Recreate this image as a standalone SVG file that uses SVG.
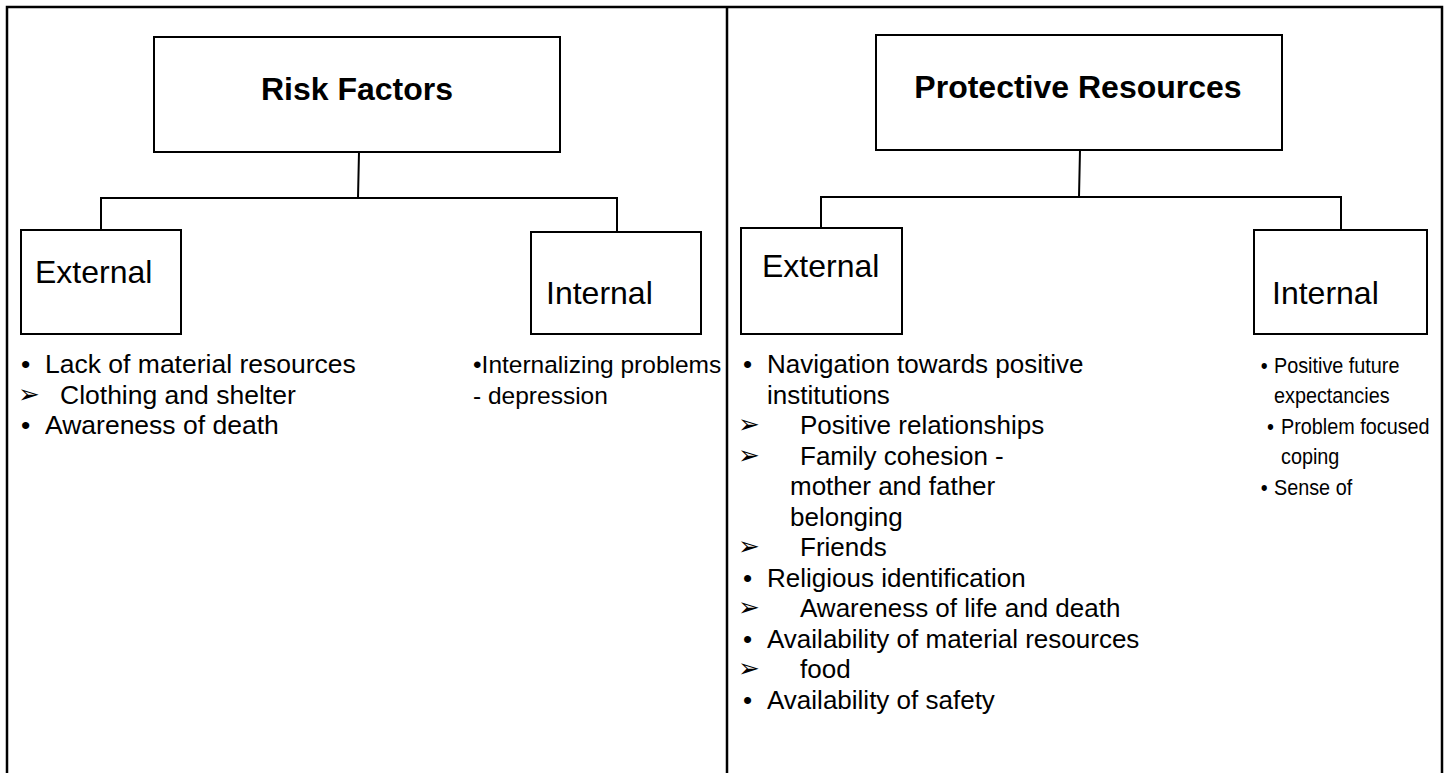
<svg xmlns="http://www.w3.org/2000/svg" width="1448" height="773" viewBox="0 0 1448 773">
  <style>
    .frame { fill: none; stroke: #000; stroke-width: 2.5; }
    .box { fill: #fff; stroke: #000; stroke-width: 2; }
    .link { fill: none; stroke: #000; stroke-width: 2; }
    .title { font-family: "Liberation Sans", Arial, sans-serif; font-size: 32px; font-weight: bold; fill: #000; text-anchor: middle; }
    .label { font-family: "Liberation Sans", Arial, sans-serif; font-size: 32px; fill: #000; }
    .item { font-family: "Liberation Sans", Arial, sans-serif; font-size: 26px; fill: #000; }
    .wide { font-family: "Liberation Sans", Arial, sans-serif; font-size: 26.5px; fill: #000; }
    .inner { font-family: "Liberation Sans", Arial, sans-serif; font-size: 24.5px; fill: #000; }
    .narrow { font-family: "Liberation Sans", Arial, sans-serif; font-size: 22.5px; fill: #000; }
    .arrow { font-family: "DejaVu Sans", sans-serif; font-size: 26px; fill: #000; }
  </style>
  <rect x="0" y="0" width="1448" height="773" fill="#fff"/>

  <!-- table frame: two open-bottomed columns -->
  <g id="frame">
    <path class="frame" d="M7,773 V7 H1442 V773 M727,7 V773"/>
  </g>

  <!-- connectors -->
  <g id="connectors">
    <path class="link" d="M359,152 L358,198 M101,198 H617 M101,197 V230 M617,197 V232"/>
    <path class="link" d="M1080,150 L1079,197 M821,197 H1341 M821,196 V228 M1341,196 V230"/>
  </g>

  <!-- left column: risk factors -->
  <g id="risk-factors">
    <rect class="box" x="154" y="37" width="406" height="115"/>
    <text class="title" x="357" y="100">Risk Factors</text>
  </g>
  <g id="risk-external">
    <rect class="box" x="21" y="230" width="160" height="104"/>
    <text class="label" x="35" y="283">External</text>
  </g>
  <g id="risk-internal">
    <rect class="box" x="531" y="232" width="170" height="102"/>
    <text class="label" x="546" y="304">Internal</text>
  </g>
  <g id="risk-external-items">
    <text class="wide" x="21" y="373">•</text>
    <text class="wide" x="45" y="373">Lack of material resources</text>
    <text class="arrow" x="18" y="403">➢</text>
    <text class="wide" x="60" y="403.5">Clothing and shelter</text>
    <text class="wide" x="21" y="434">•</text>
    <text class="wide" x="45" y="434">Awareness of death</text>
  </g>
  <g id="risk-internal-items">
    <text class="inner" x="473" y="373">•Internalizing problems</text>
    <text class="inner" x="473" y="403.5">- depression</text>
  </g>

  <!-- right column: protective resources -->
  <g id="protective-resources">
    <rect class="box" x="876" y="35" width="406" height="115"/>
    <text class="title" x="1078" y="98">Protective Resources</text>
  </g>
  <g id="protective-external">
    <rect class="box" x="741" y="228" width="161" height="106"/>
    <text class="label" x="762" y="277">External</text>
  </g>
  <g id="protective-internal">
    <rect class="box" x="1254" y="230" width="173" height="104"/>
    <text class="label" x="1272" y="304">Internal</text>
  </g>
  <g id="protective-external-items">
    <text class="item" x="743" y="373">•</text>
    <text class="item" x="767" y="373">Navigation towards positive</text>
    <text class="item" x="767" y="403.5">institutions</text>
    <text class="arrow" x="738" y="433">➢</text>
    <text class="item" x="800" y="434">Positive relationships</text>
    <text class="arrow" x="738" y="463.5">➢</text>
    <text class="item" x="800" y="464.5">Family cohesion -</text>
    <text class="item" x="790" y="495">mother and father</text>
    <text class="item" x="790" y="525.5">belonging</text>
    <text class="arrow" x="738" y="555">➢</text>
    <text class="item" x="800" y="556">Friends</text>
    <text class="item" x="743" y="586.5">•</text>
    <text class="item" x="767" y="586.5">Religious identification</text>
    <text class="arrow" x="738" y="616">➢</text>
    <text class="item" x="800" y="617">Awareness of life and death</text>
    <text class="item" x="743" y="647.5">•</text>
    <text class="item" x="767" y="647.5">Availability of material resources</text>
    <text class="arrow" x="738" y="677">➢</text>
    <text class="item" x="800" y="678">food</text>
    <text class="item" x="743" y="708.5">•</text>
    <text class="item" x="767" y="708.5">Availability of safety</text>
  </g>
  <!-- this column's text box is slightly compressed to fit beside the frame -->
  <g id="protective-internal-items" transform="translate(1274 0) scale(0.88 1)">
    <text class="narrow" x="-15" y="373">•</text>
    <text class="narrow" x="0" y="373">Positive future</text>
    <text class="narrow" x="0" y="403.5">expectancies</text>
    <text class="narrow" x="-8" y="434">•</text>
    <text class="narrow" x="8" y="434">Problem focused</text>
    <text class="narrow" x="8" y="464.5">coping</text>
    <text class="narrow" x="-15" y="495">•</text>
    <text class="narrow" x="0" y="495">Sense of</text>
  </g>
</svg>
